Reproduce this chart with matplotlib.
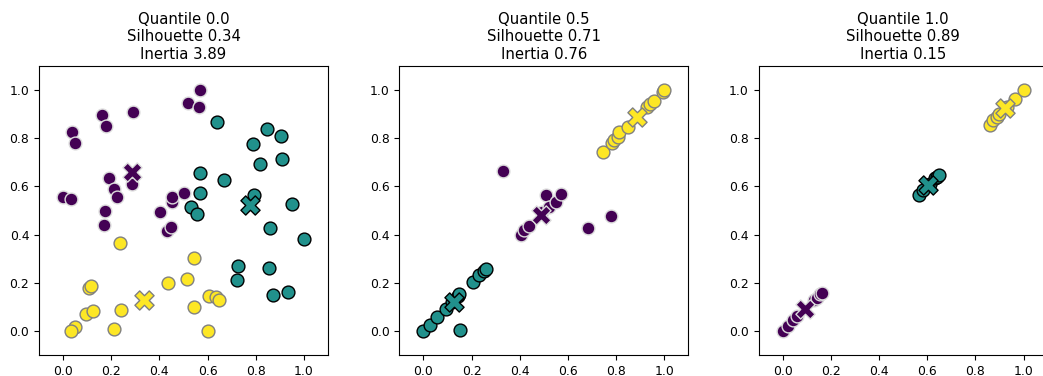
import matplotlib
matplotlib.use('Agg')
import matplotlib.pyplot as plt
import numpy as np

# panel titles
quantiles = [0.0, 0.5, 1.0]
silhouettes = [0.34, 0.71, 0.89]
inertias = [3.89, 0.76, 0.15]

# quantile 0.0
q0_purple_x = [0.0, 0.032, 0.035, 0.05, 0.16, 0.178, 0.292, 0.19, 0.21, 0.224, 0.172, 0.168, 0.2875,
               0.403, 0.43, 0.449, 0.454, 0.451, 0.501, 0.517, 0.565, 0.569]
q0_purple_y = [0.554, 0.546, 0.824, 0.781, 0.896, 0.85, 0.907, 0.633, 0.59, 0.555, 0.5, 0.438, 0.608,
               0.493, 0.413, 0.432, 0.536, 0.554, 0.573, 0.947, 0.931, 1.0]
q0_teal_x = [0.639, 0.789, 0.847, 0.903, 0.819, 0.91, 0.569, 0.669, 0.569, 0.532, 0.556, 0.792, 0.951,
             0.858, 1.0, 0.725, 0.722, 0.854, 0.872, 0.933]
q0_teal_y = [0.868, 0.778, 0.84, 0.81, 0.695, 0.713, 0.656, 0.626, 0.571, 0.515, 0.485, 0.566, 0.526,
             0.429, 0.381, 0.27, 0.213, 0.263, 0.151, 0.162]
q0_yellow_x = [0.236, 0.542, 0.4375, 0.514, 0.108, 0.115, 0.094, 0.125, 0.239, 0.049, 0.032, 0.2125,
               0.542, 0.604, 0.636, 0.646, 0.6]
q0_yellow_y = [0.366, 0.303, 0.197, 0.215, 0.177, 0.186, 0.069, 0.083, 0.086, 0.017, 0.0, 0.008,
               0.098, 0.144, 0.139, 0.13, 0.0]
q0_centers_x = [0.2875, 0.775, 0.336]
q0_centers_y = [0.659, 0.522, 0.13]

# quantile 0.5
q5_purple_x = [0.331, 0.404, 0.418, 0.439, 0.494, 0.508, 0.522, 0.55, 0.571, 0.684, 0.778]
q5_purple_y = [0.663, 0.4, 0.418, 0.436, 0.494, 0.566, 0.515, 0.536, 0.568, 0.429, 0.479]
q5_teal_x = [0.0, 0.028, 0.058, 0.093, 0.12, 0.144, 0.148, 0.151, 0.206, 0.231, 0.252, 0.259]
q5_teal_y = [0.0, 0.024, 0.058, 0.093, 0.12, 0.147, 0.155, 0.003, 0.204, 0.231, 0.249, 0.256]
q5_yellow_x = [0.744, 0.785, 0.792, 0.809, 0.813, 0.85, 0.928, 0.942, 0.958, 0.993, 1.0]
q5_yellow_y = [0.744, 0.782, 0.792, 0.806, 0.827, 0.848, 0.928, 0.942, 0.954, 0.99, 1.0]
q5_centers_x = [0.4875, 0.127, 0.889]
q5_centers_y = [0.483, 0.12, 0.889]

# quantile 1.0
q1_purple_x = [0.0, 0.024, 0.044, 0.06, 0.13, 0.141, 0.155, 0.162]
q1_purple_y = [0.0, 0.02, 0.044, 0.06, 0.13, 0.138, 0.155, 0.159]
q1_teal_x = [0.568, 0.584, 0.61, 0.633, 0.64, 0.647]
q1_teal_y = [0.564, 0.584, 0.61, 0.633, 0.64, 0.647]
q1_yellow_x = [0.859, 0.875, 0.89, 0.9, 0.93, 0.965, 1.0]
q1_yellow_y = [0.855, 0.875, 0.89, 0.9, 0.93, 0.965, 1.0]
q1_centers_x = [0.093, 0.605, 0.924]
q1_centers_y = [0.089, 0.605, 0.924]

panels = [
    [(q0_purple_x, q0_purple_y), (q0_teal_x, q0_teal_y), (q0_yellow_x, q0_yellow_y), (q0_centers_x, q0_centers_y)],
    [(q5_purple_x, q5_purple_y), (q5_teal_x, q5_teal_y), (q5_yellow_x, q5_yellow_y), (q5_centers_x, q5_centers_y)],
    [(q1_purple_x, q1_purple_y), (q1_teal_x, q1_teal_y), (q1_yellow_x, q1_yellow_y), (q1_centers_x, q1_centers_y)],
]

faces = ['#440154', '#21918c', '#fde725']
edges = ['#dcdcdc', 'black', 'grey']

W, H = 1043, 376
fig = plt.figure(figsize=(W / 100, H / 100), dpi=100)
lefts = [39, 399.3, 758.6]
for k in range(3):
    ax = fig.add_axes([lefts[k] / W, (H - 355) / H, 289 / W, 289 / H])
    data = panels[k]
    for c in range(3):
        xs, ys = data[c]
        ax.scatter(xs, ys, s=85, c=faces[c], edgecolors=edges[c], linewidths=1.0, zorder=2)
    cx, cy = data[3]
    for c in range(3):
        ax.scatter(cx[c], cy[c], s=190, marker='X', c=faces[c], edgecolors=edges[c],
                   linewidths=1.0, zorder=3)
    ax.set_xlim(-0.1, 1.1)
    ax.set_ylim(-0.1, 1.1)
    ax.set_xticks(np.arange(0, 1.01, 0.2))
    ax.set_yticks(np.arange(0, 1.01, 0.2))
    ax.tick_params(labelsize=8.9)
    ax.set_title("Quantile {}\nSilhouette {:.2f}\nInertia {:.2f}".format(quantiles[k], silhouettes[k], inertias[k]),
                 fontsize=10.7, pad=5.3)

plt.savefig('out.png', dpi=100)
